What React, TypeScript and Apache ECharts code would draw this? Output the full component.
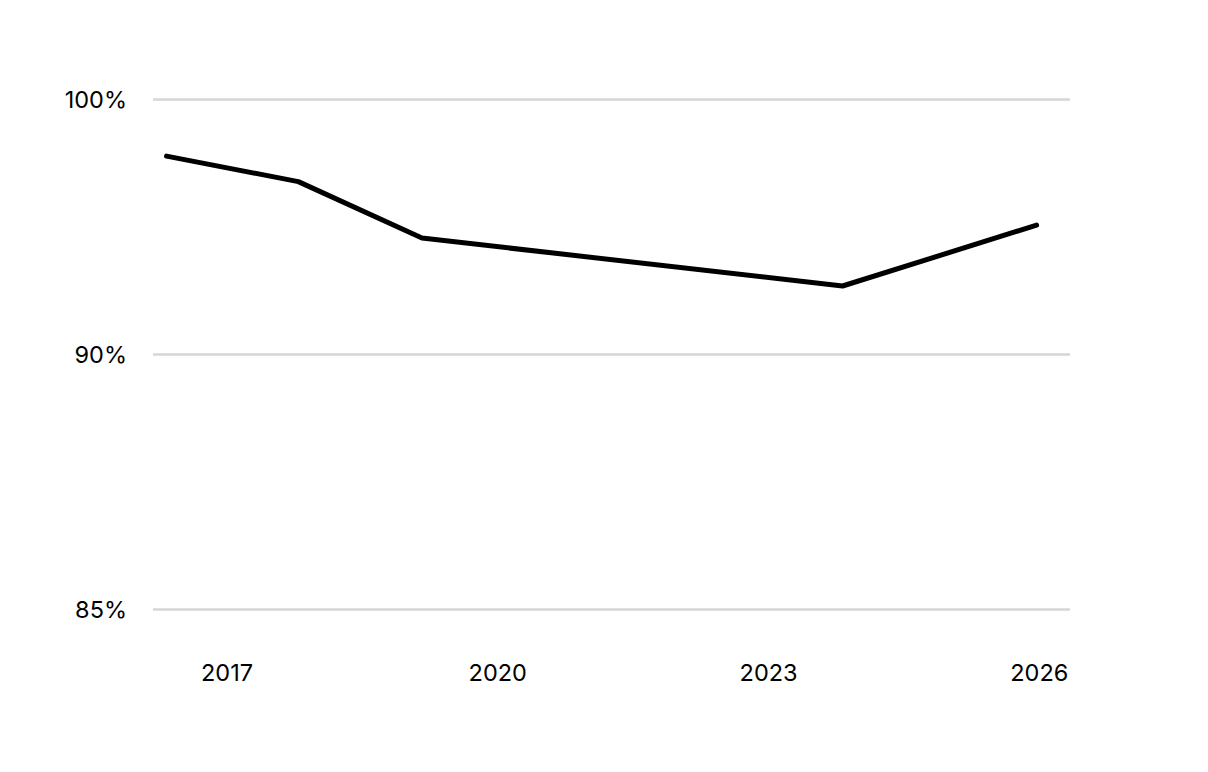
import React, { useEffect, useRef } from 'react';
import * as echarts from 'echarts';

const years = [2016.33, 2017.79, 2019.16, 2023.82, 2025.97];
const shares = [98.32, 97.57, 95.91, 94.5, 96.29];

// x labels and y gridlines; the middle gridline sits halfway between 85% and 100%
const xTickYears = [2017, 2020, 2023, 2026];
const yTickValues = [85, 92.5, 100];
const yTickLabels = ['85%', '90%', '100%'];

const App: React.FC = () => {
    const chartRef = useRef<HTMLDivElement | null>(null);

    useEffect(() => {
        document.body.style.margin = '0';
        if (!chartRef.current) return;
        const chart = echarts.init(chartRef.current, undefined, { renderer: 'svg' });

        const option = {
            animation: false,
            textStyle: { fontFamily: 'Inter' },
            grid: { left: 153, right: 138, top: 99, bottom: 163, outerBoundsMode: 'none' },
            xAxis: {
                type: 'value',
                min: 2016.18,
                max: 2026.34,
                axisLine: { show: false },
                axisTick: { show: false, customValues: xTickYears },
                splitLine: { show: false },
                axisLabel: {
                    customValues: xTickYears,
                    formatter: (v: number) => String(Math.round(v)),
                    color: '#000',
                    fontSize: 23.5,
                    margin: 51,
                },
            },
            yAxis: {
                type: 'value',
                min: 85,
                max: 100,
                axisLine: { show: false },
                axisTick: { show: false, customValues: yTickValues },
                splitLine: { show: true, lineStyle: { color: '#d6d6d6', width: 2.5 } },
                axisLabel: {
                    customValues: yTickValues,
                    formatter: (v: number) => yTickLabels[yTickValues.indexOf(v)] ?? '',
                    color: '#000',
                    fontSize: 23.5,
                    margin: 26,
                },
            },
            series: [
                {
                    type: 'line',
                    data: years.map((y, i) => [y, shares[i]]),
                    symbol: 'none',
                    lineStyle: { color: '#000', width: 5, cap: 'round', join: 'round' },
                },
            ],
        };

        chart.setOption(option);
        return () => chart.dispose();
    }, []);

    return <div ref={chartRef} style={{ width: '1208px', height: '772px' }} />;
};

export default App;
